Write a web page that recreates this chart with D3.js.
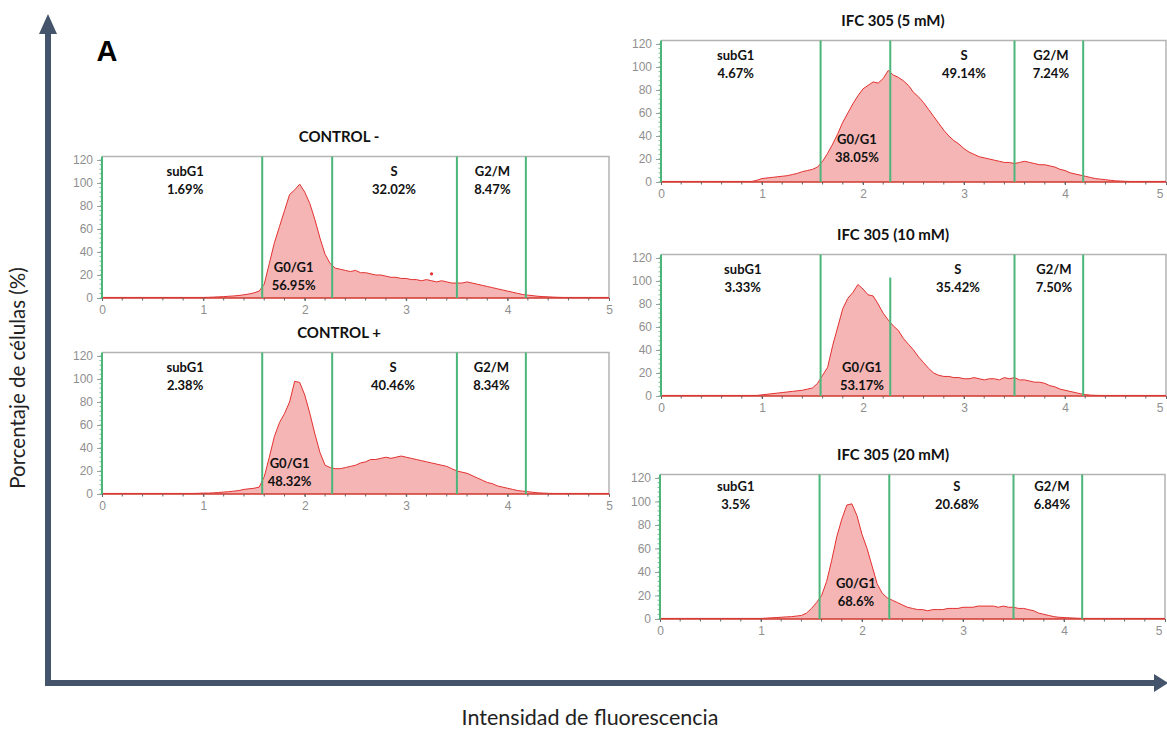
<!DOCTYPE html>
<html><head><meta charset="utf-8">
<script src="https://cdn.jsdelivr.net/npm/d3@7"></script>
<style>
html,body{margin:0;padding:0;background:#fff;}
svg{display:block;}
</style></head>
<body><svg id="c" width="1167" height="729"></svg>
<script>
// ---------------- DATA ----------------
const bins = [0,0.05,0.1,0.15,0.2,0.25,0.3,0.35,0.4,0.45,0.5,0.55,0.6,0.65,0.7,0.75,0.8,0.85,0.9,0.95,
1,1.05,1.1,1.15,1.2,1.25,1.3,1.35,1.4,1.45,1.5,1.55,1.6,1.65,1.7,1.75,1.8,1.85,1.9,1.95,
2,2.05,2.1,2.15,2.2,2.25,2.3,2.35,2.4,2.45,2.5,2.55,2.6,2.65,2.7,2.75,2.8,2.85,2.9,2.95,
3,3.05,3.1,3.15,3.2,3.25,3.3,3.35,3.4,3.45,3.5,3.55,3.6,3.65,3.7,3.75,3.8,3.85,3.9,3.95,
4,4.05,4.1,4.15,4.2,4.25,4.3,4.35,4.4,4.45,4.5,4.55,4.6,4.65,4.7,4.75,4.8,4.85,4.9,4.95,5];

const controlMinus = [0.5,0.5,0.5,0.5,0.5,0.5,0.5,0.5,0.5,0.5,0.5,0.5,0.5,0.5,0.5,0.5,0.5,0.5,0.5,0.5,0.5,
0.6,0.8,1,1.2,1.5,1.8,2.2,2.8,3.5,4.5,
6,12,30,48,62,76,90,94,99,92,
82,68,52,38,30,26,25,24,23,24,
22,22,21,20,20,19,18,18,17,17,
16,16,15,16,15,14,15,14,13,13,
13,14,13,12,11,10,9,8,7,6,
5,4,3,2.5,2,1.5,1.2,1,0.8,0.6,
0.5,0.5,0.5,0.5,0.5,0.5,0.5,0.5,0.5,0.5];

const controlPlus = [0.5,0.5,0.5,0.5,0.5,0.5,0.5,0.5,0.5,0.5,0.5,0.5,0.5,0.5,0.5,0.5,0.5,0.5,0.5,0.6,0.8,
0.8,1,1.3,1.7,2,2.5,3,4,4.5,5,
6,15,32,50,62,70,80,98,97,86,
70,52,36,25,23,22,22,23,24,25,
27,28,30,30,31,32,31,32,33,32,
31,30,29,28,27,26,25,24,22,20,
19,18,16,14,12,10,9,7,6,5,
4,3,2.5,2,1.5,1,0.8,0.6,0.5,0.5,
0.5,0.5,0.5,0.5,0.5,0.5,0.5,0.5,0.5,0.5];

const ifc5 = [0.5,0.5,0.5,0.5,0.5,0.5,0.5,0.5,0.5,0.5,0.5,0.5,0.5,0.5,0.5,0.5,0.5,0.5,0.5,1.5,3,
3.5,4,4.5,5,5.5,6.5,7.5,9,10,11,
13,18,25,33,42,52,60,68,75,81,
84,87,86,90,97,93,91,88,84,78,
74,69,63,57,51,45,40,36,33,29,
26,24,22,21,20,19,18,17,17,16,
17,18,17,16,15,15,14,13,11,10,
8,7,6,5,4,3,2.5,2,1.5,1,
0.8,0.6,0.5,0.5,0.5,0.5,0.5,0.5,0.5,0.5];

const ifc10 = [0.5,0.5,0.5,0.5,0.5,0.5,0.5,0.5,0.5,0.5,0.5,0.5,0.5,0.5,0.5,0.5,0.5,0.5,0.5,0.5,1,
1.5,2,2.5,3,3.5,4,4.5,5,6,7,
11,18,25,44,60,76,85,90,97,93,
88,87,80,72,66,61,57,50,45,40,
34,29,24,20,18,17,17,16,16,15,
15,16,15,14,15,15,14,16,15,16,
14,14,13,12,12,11,9,8,6,5,
4,3,2,1.2,0.8,0.6,0.5,0.5,0.5,0.5,
0.5,0.5,0.5,0.5,0.5,0.5,0.5,0.5,0.5,0.5];

const ifc20 = [0.5,0.5,0.5,0.5,0.5,0.5,0.5,0.5,0.5,0.5,0.5,0.5,0.5,0.5,0.5,0.5,0.5,0.5,0.5,0.5,0.5,
0.7,1,1.2,1.5,1.8,2,2.5,3,5,9,
14,20,32,50,70,85,97,98,88,72,
60,45,30,22,18,16,14,12,10,9,
8,8,7,8,8,8,9,9,9,10,
10,10,11,11,11,11,10,11,10,10,
9,9,8,7,5,4,3,2,1.5,1.2,
1,0.8,0.6,0.5,0.5,0.5,0.5,0.5,0.5,0.5,
0.5,0.5,0.5,0.5,0.5,0.5,0.5,0.5,0.5,0.5];

const controlMinusOutlier = [3.25, 21];

const gates = [1.58, 2.27, 3.5, 4.18];
const phaseNames = ["subG1", "S", "G2/M", "G0/G1"];
const pctControlMinus = ["1.69%", "32.02%", "8.47%", "56.95%"];
const pctControlPlus  = ["2.38%", "40.46%", "8.34%", "48.32%"];
const pctIfc5  = ["4.67%", "49.14%", "7.24%", "38.05%"];
const pctIfc10 = ["3.33%", "35.42%", "7.50%", "53.17%"];
const pctIfc20 = ["3.5%", "20.68%", "6.84%", "68.6%"];

const titles = ["CONTROL -", "CONTROL +", "IFC 305 (5 mM)", "IFC 305 (10 mM)", "IFC 305 (20 mM)"];
const yTicks = [0, 20, 40, 60, 80, 100, 120];
const xTicks = [0, 1, 2, 3, 4, 5];

// ---------------- LAYOUT ----------------
const panels = [
  {title: titles[0], values: controlMinus, pct: pctControlMinus, px0: 102, px5: 609, py0: 298, py120: 160,
   lab: [[0.82], [2.88], [3.85], [1.89, 26]], topY: 110},
  {title: titles[1], values: controlPlus, pct: pctControlPlus, px0: 102, px5: 609, py0: 494, py120: 356,
   lab: [[0.82], [2.87], [3.84], [1.85, 26]], topY: 110},
  {title: titles[2], values: ifc5, pct: pctIfc5, px0: 661, px5: 1166, py0: 182, py120: 44, right: true,
   lab: [[0.74], [3.0], [3.86], [1.94, 36.5]], topY: 110},
  {title: titles[3], values: ifc10, pct: pctIfc10, px0: 661, px5: 1166, py0: 396, py120: 258, right: true,
   lab: [[0.81], [2.94], [3.89], [1.99, 24]], topY: 110, sGateTop: 103},
  {title: titles[4], values: ifc20, pct: pctIfc20, px0: 660, px5: 1165, py0: 619, py120: 478, right: true,
   lab: [[0.75], [2.94], [3.88], [1.94, 30]], topY: 112}
];

const svg = d3.select("#c");
const AX = "#44546a";
const GREEN = "#4cb57a";
const FONT = "Lato, 'Open Sans', sans-serif";

panels.forEach((p, pi) => {
  const x = d3.scaleLinear().domain([0, 5]).range([p.px0, p.px5]);
  const y = d3.scaleLinear().domain([0, 120]).range([p.py0, p.py120]);
  const g = svg.append("g");
  const top = y(123);

  g.append("path").attr("d", `M${x(0)},${top}H${x(5)}V${y(0)}`)
    .attr("fill", "none").attr("stroke", "#b4b4b4").attr("stroke-width", 1.5);

  const pts = bins.map((b, i) => [b, p.values[i]]);
  g.append("path").datum(pts)
    .attr("d", d3.area().x(d => x(d[0])).y0(y(0)).y1(d => y(d[1])))
    .attr("fill", "#f6b5b5");
  g.append("path").datum(pts)
    .attr("d", d3.line().x(d => x(d[0])).y(d => y(d[1])))
    .attr("fill", "none").attr("stroke", "#e2312f").attr("stroke-width", 1);
  g.append("line").attr("x1", x(0)).attr("x2", x(5)).attr("y1", y(0)).attr("y2", y(0))
    .attr("stroke", "#d0392f").attr("stroke-width", 1.5);

  gates.forEach((gt, gi) => {
    const yt = (gi === 1 && p.sGateTop) ? y(p.sGateTop) : top;
    g.append("line").attr("x1", x(gt)).attr("x2", x(gt)).attr("y1", yt).attr("y2", y(0))
      .attr("stroke", GREEN).attr("stroke-width", 2);
  });

  const ya = d3.axisLeft(y).tickValues(yTicks).tickSize(5).tickPadding(4);
  const yg = g.append("g").attr("transform", `translate(${x(0)},0)`).call(ya);
  yg.select(".domain").remove();
  yg.selectAll(".tick line").attr("stroke", "#a0a0a0");
  yg.selectAll("text").attr("fill", "#8f8f8f").style("font-family", "'Liberation Sans', Arial, sans-serif").style("font-size", "12px");
  const yMinor = d3.range(0, 121, 4);
  g.append("g").selectAll("line").data(yMinor).join("line")
    .attr("x1", x(0) - 2.5).attr("x2", x(0)).attr("y1", d => y(d)).attr("y2", d => y(d))
    .attr("stroke", GREEN).attr("stroke-width", 0.8);
  g.append("line").attr("x1", x(0)).attr("x2", x(0)).attr("y1", top).attr("y2", y(0))
    .attr("stroke", GREEN).attr("stroke-width", 2);

  const xa = d3.axisBottom(x).tickValues(xTicks).tickSize(3).tickPadding(4).tickFormat(d3.format("d"));
  const xg = g.append("g").attr("transform", `translate(0,${y(0)})`).call(xa);
  xg.select(".domain").remove();
  xg.selectAll(".tick line").attr("stroke", "#666");
  xg.selectAll("text").attr("fill", "#8f8f8f").style("font-family", "'Liberation Sans', Arial, sans-serif").style("font-size", "12px");
  if (p.right) xg.selectAll(".tick text").filter(d => d === 5).attr("text-anchor", "end").attr("dx", "-0.25em");
  const xMinor = d3.range(0.2, 5, 0.2);
  g.append("g").selectAll("line").data(xMinor).join("line")
    .attr("x1", d => x(d)).attr("x2", d => x(d)).attr("y1", y(0)).attr("y2", y(0) + 2.5)
    .attr("stroke", "#666").attr("stroke-width", 1);

  g.append("text").attr("x", (pi < 2 ? 339 : 893)).attr("y", top - 18)
    .attr("text-anchor", "middle").attr("dominant-baseline", "middle")
    .style("font-family", FONT).style("font-weight", "700").style("font-size", "15px").attr("fill", "#111")
    .text(p.title);

  p.lab.forEach((l, li) => {
    const isG0 = li === 3;
    const ny = isG0 ? y(l[1]) : y(p.topY);
    const t = g.append("text").attr("text-anchor", "middle")
      .style("font-family", FONT).style("font-weight", "700").style("font-size", "13px").attr("fill", "#111");
    t.append("tspan").attr("x", x(l[0])).attr("y", ny + 4).text(phaseNames[li]);
    t.append("tspan").attr("x", x(l[0])).attr("y", ny + 22).text(p.pct[li]);
  });

  if (pi === 0) {
    g.append("circle").attr("cx", x(controlMinusOutlier[0])).attr("cy", y(controlMinusOutlier[1]))
      .attr("r", 1.6).attr("fill", "#e2312f");
  }
});

svg.append("line").attr("x1", 48).attr("x2", 48).attr("y1", 686).attr("y2", 30)
  .attr("stroke", AX).attr("stroke-width", 6);
svg.append("path").attr("d", "M48,14 L57,34 L39,34 Z").attr("fill", AX);
svg.append("line").attr("x1", 45).attr("x2", 1156).attr("y1", 683).attr("y2", 683)
  .attr("stroke", AX).attr("stroke-width", 6);
svg.append("path").attr("d", "M1168,683 L1154,674 L1154,692 Z").attr("fill", AX);

svg.append("text").attr("x", 107).attr("y", 61).attr("text-anchor", "middle")
  .style("font-family", "'Liberation Sans', Arial, sans-serif").style("font-weight", "700").style("font-size", "29px")
  .attr("fill", "#000").text("A");

svg.append("text").attr("transform", "translate(25,378) rotate(-90)").attr("text-anchor", "middle")
  .style("font-family", FONT).style("font-size", "20.5px").attr("fill", "#222")
  .text("Porcentaje de células (%)");
svg.append("text").attr("x", 590).attr("y", 725).attr("text-anchor", "middle")
  .style("font-family", FONT).style("font-size", "21.5px").attr("fill", "#222")
  .text("Intensidad de fluorescencia");
</script>
</body></html>
